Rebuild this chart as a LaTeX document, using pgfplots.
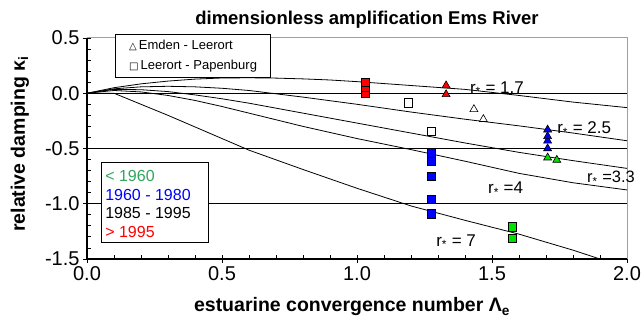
\documentclass[border=0pt]{standalone}
\usepackage{fontspec}
\setmainfont{Liberation Sans}
\newfontfamily\dejavu{DejaVu Sans}
\usepackage{pgfplots}
\pgfplotsset{compat=1.18}
\definecolor{mgreen}{RGB}{0,225,0}
\definecolor{tgreen}{RGB}{50,165,95}
\newcommand{\fs}[1]{\fontsize{#1}{#1}\selectfont}
\begin{document}
\begin{tikzpicture}
\begin{axis}[
 name=ax, at={(0pt,0pt)}, anchor=south west,
 scale only axis, width=540pt, height=221pt,
 xmin=0,xmax=2,ymin=-1.5,ymax=0.5,
 axis x line*=bottom, axis y line*=left,
 axis line style={black, line width=1.1pt},
 xtick={0,0.5,1,1.5,2}, xticklabels={0.0,0.5,1.0,1.5,2.0},
 ytick={-1.5,-1,-0.5,0,0.5}, yticklabels={-1.5,-1.0,-0.5,0.0,0.5},
 minor x tick num=4, minor y tick num=4,
 tick align=center,
 major tick length=8pt, minor tick length=4pt,
 tick style={black, line width=0.8pt},
 every minor x tick/.append style={yshift=2pt},
 every minor y tick/.append style={xshift=2pt},
 ticklabel style={font=\fs{20}},
 clip=false,
]
% frame top/right
\draw[gray!75, line width=1pt] (rel axis cs:0,1) -- (rel axis cs:1,1) -- (rel axis cs:1,0);
% horizontal reference lines
\draw[black, line width=0.8pt] (axis cs:0,0) -- (axis cs:2,0);
\draw[black, line width=0.8pt] (axis cs:0,-0.5) -- (axis cs:2,-0.5);
\draw[black, line width=0.8pt] (axis cs:0,-1) -- (axis cs:2,-1);
% curves
\addplot[black, line width=0.8pt] coordinates {(0,0)(0.1,0.05)(0.2,0.085)(0.3,0.11)(0.4,0.128)(0.5,0.138)(0.6,0.14)(0.7,0.137)(0.8,0.13)(0.9,0.12)(1.0,0.105)(1.2,0.07)(1.4,0.035)(1.6,-0.02)(1.8,-0.08)(2.0,-0.13)};
\addplot[black, line width=0.8pt] coordinates {(0,0)(0.1,0.04)(0.2,0.058)(0.3,0.063)(0.4,0.058)(0.5,0.045)(0.6,0.025)(0.8,-0.035)(1.0,-0.1)(1.2,-0.17)(1.4,-0.235)(1.6,-0.295)(1.8,-0.36)(2.0,-0.43)};
\addplot[black, line width=0.8pt] coordinates {(0,0)(0.1,0.035)(0.2,0.032)(0.3,0.015)(0.4,-0.015)(0.5,-0.05)(0.6,-0.09)(0.8,-0.18)(1.0,-0.27)(1.2,-0.36)(1.4,-0.45)(1.6,-0.535)(1.8,-0.61)(2.0,-0.68)};
\addplot[black, line width=0.8pt] coordinates {(0,0)(0.1,0.025)(0.2,0.012)(0.3,-0.02)(0.4,-0.065)(0.5,-0.12)(0.6,-0.18)(0.8,-0.3)(1.0,-0.41)(1.2,-0.51)(1.4,-0.615)(1.6,-0.725)(1.8,-0.81)(2.0,-0.875)};
\addplot[black, line width=0.8pt] coordinates {(0,0)(0.1,0)(0.2,-0.1)(0.3,-0.2)(0.4,-0.305)(0.5,-0.41)(0.6,-0.515)(0.8,-0.69)(1.0,-0.86)(1.2,-1.02)(1.4,-1.15)(1.6,-1.275)(1.8,-1.42)(1.9,-1.5)};
% markers
\pgfplotsset{sq/.style={only marks, mark=square*, mark size=4.2pt, mark options={draw=black, line width=0.6pt, fill=#1}},
 tr/.style={only marks, mark=triangle*, mark size=4.6pt, mark options={draw=black, line width=0.6pt, fill=#1}}}
\addplot[sq=red] coordinates {(1.03,0.005)(1.03,0.055)(1.03,0.10)};
\addplot[tr=red] coordinates {(1.33,-0.01)(1.33,0.07)};
\addplot[sq=white] coordinates {(1.19,-0.085)(1.275,-0.347)};
\addplot[tr=white] coordinates {(1.433,-0.145)(1.468,-0.235)};
\addplot[sq=blue] coordinates {(1.275,-1.09)(1.275,-0.96)(1.275,-0.75)(1.275,-0.61)(1.275,-0.54)};
\addplot[tr=blue] coordinates {(1.706,-0.50)(1.706,-0.43)(1.706,-0.39)(1.706,-0.33)};
\addplot[tr=mgreen] coordinates {(1.706,-0.583)(1.74,-0.604)};
\addplot[sq=mgreen] coordinates {(1.575,-1.31)(1.575,-1.207)};
% curve labels
\node[anchor=west, inner sep=0pt, font=\fs{17}] at (axis cs:1.418,0.04) {r\textsubscript{*} = 1.7};
\node[anchor=west, inner sep=0pt, font=\fs{17}] at (axis cs:1.741,-0.326) {r\textsubscript{*} = 2.5};
\node[anchor=west, inner sep=0pt, font=\fs{16.5}] at (axis cs:1.852,-0.77) {r\textsubscript{*} =3.3};
\node[anchor=west, inner sep=0pt, font=\fs{17}] at (axis cs:1.485,-0.869) {r\textsubscript{*} =4};
\node[anchor=west, inner sep=0pt, font=\fs{17}] at (axis cs:1.293,-1.343) {r\textsubscript{*} = 7};
% legend 1
\draw[black, line width=0.7pt, fill=white] (axis cs:0.106,0.534) rectangle (axis cs:0.68,0.145);
\node[anchor=west, inner sep=0pt, font=\fs{13}] at (axis cs:0.155,0.437) {{\dejavu\fs{10}△}\,Emden - Leerort};
\node[anchor=west, inner sep=0pt, font=\fs{13}] at (axis cs:0.155,0.241) {{\dejavu\fs{10}□}\,Leerort - Papenburg};
% legend 2
\draw[black, line width=0.7pt, fill=white] (axis cs:0.054,-0.628) rectangle (axis cs:0.449,-1.352);
\node[anchor=west, inner sep=0pt, font=\fs{16}, text=tgreen] at (axis cs:0.067,-0.746) {< 1960};
\node[anchor=west, inner sep=0pt, font=\fs{16}, text=blue] at (axis cs:0.067,-0.918) {1960 - 1980};
\node[anchor=west, inner sep=0pt, font=\fs{16}, text=black] at (axis cs:0.067,-1.086) {1985 - 1995};
\node[anchor=west, inner sep=0pt, font=\fs{16}, text=red] at (axis cs:0.067,-1.258) {> 1995};
% title and axis labels
\node[font=\fs{18.5}\bfseries] at ([xshift=10pt,yshift=18pt]rel axis cs:0.5,1) {dimensionless amplification Ems River};
\node[font=\fs{19.5}\bfseries] at ([xshift=-5pt,yshift=-48pt]rel axis cs:0.5,0) {estuarine convergence number Λ\textsubscript{e}};
\node[font=\fs{19.5}\bfseries, rotate=90] at ([xshift=-67pt,yshift=4.5pt]rel axis cs:0,0.5) {relative damping κ\textsubscript{i}};
\end{axis}
\pgfresetboundingbox
\path[use as bounding box] (-87pt,-64pt) rectangle (554pt,259pt);
\end{tikzpicture}
\end{document}
